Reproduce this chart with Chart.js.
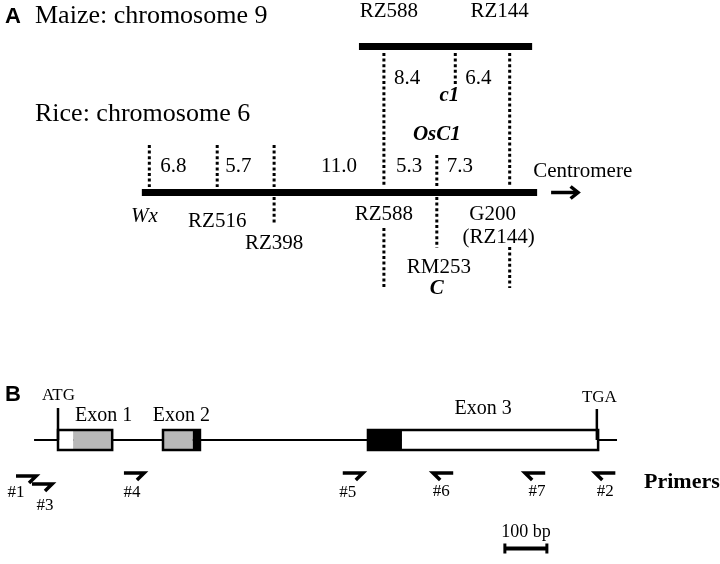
<!DOCTYPE html>
<html>
<head>
<meta charset="utf-8">
<script src="https://cdn.jsdelivr.net/npm/chart.js@4"></script>
<style>
  html, body { margin: 0; padding: 0; background: #fff; }
  #wrap { width: 720px; height: 564px; }
</style>
</head>
<body>
<div id="wrap"><canvas id="figura" width="720" height="564"></canvas></div>
<script>
// ---- Panel A: mapas genéticos (cM entre marcadores vecinos) ----
const maizeMarkers = ['RZ588', 'c1', 'RZ144'];
const maizeIntervals = [8.4, 6.4];
const riceMarkers = ['Wx', 'RZ516', 'RZ398', 'RZ588', 'RM253', 'G200'];
const riceIntervals = [6.8, 5.7, 11.0, 5.3, 7.3];

// ---- Panel B: gen OsC1, posiciones en pb (ATG = 0) ----
const geneSpan = [-57, 1331];
const atgPos = 0;
const tgaPos = 1283;
const exonNames = ['Exon 1', 'Exon 2', 'Exon 3'];
const exonStarts = [0, 250, 738];
const exonEnds = [129, 338, 1286];
const partStarts = [0, 36, 250, 321, 738, 819];
const partEnds = [36, 129, 321, 338, 819, 1286];
const partKinds = ['blanco', 'gris', 'gris', 'negro', 'negro', 'blanco'];
const primerNames = ['#1', '#3', '#4', '#5', '#6', '#7', '#2'];
const primerTips = [-52, -14, 205, 726, 893, 1112, 1279];
const primerStrand = [1, 1, 1, 1, -1, -1, -1];
const scaleBarStart = 1064;
const scaleBarLength = 100;

// posiciones acumuladas
const cumul = (arr, start) => arr.reduce((acc, d) => { acc.push(+(acc[acc.length - 1] + d).toFixed(2)); return acc; }, [start]);
const ricePos = cumul(riceIntervals, 0);
const maizeRaw = cumul(maizeIntervals, 0);
// maíz alineado con arroz en los marcadores comunes (RZ588 y RZ144/G200)
const k = (ricePos[5] - ricePos[3]) / maizeRaw[2];
const maizePos = maizeRaw.map(v => ricePos[3] + v * k);

// ---- estilos y maquetación ----
const SERIF = '"Liberation Serif", "Times New Roman", serif';
const SANS = '"Liberation Sans", Arial, sans-serif';
const DOT = [3, 2.6];
const colores = { blanco: '#ffffff', gris: '#b8b8b8', negro: '#000000' };

const datasets = [];
function seg(axis, pts, color, width, extra) {
  datasets.push(Object.assign({
    xAxisID: axis, yAxisID: 'y',
    data: pts.map(p => ({ x: p[0], y: p[1] })),
    showLine: true, pointRadius: 0, borderColor: color, backgroundColor: color,
    borderWidth: width, fill: false, tension: 0, borderCapStyle: 'butt',
    borderJoinStyle: 'miter', order: -datasets.length
  }, extra || {}));
}
const textos = [];
function texto(axis, x, dx, y, t, font, align) {
  textos.push({ axis, x, dx, y, t, font, align: align || 'center' });
}

// --- A: líneas punteadas ---
const maizeDots = [[53, 187], [53, 85], [53, 187]];
const riceDotsAbove = [[145, 187], [145, 187], [145, 187], null, [155, 187], null];
const riceDotsBelow = [null, null, [197, 225], [228, 288], [197, 248], [247, 288]];
maizePos.forEach((p, i) => seg('xa', [[p, maizeDots[i][0]], [p, maizeDots[i][1]]], '#000', 3, { borderDash: DOT }));
ricePos.forEach((p, i) => {
  [riceDotsAbove[i], riceDotsBelow[i]].forEach(r => {
    if (r) seg('xa', [[p, r[0]], [p, r[1]]], '#000', 3, { borderDash: DOT });
  });
});

// --- A: cromosomas ---
const maizeBar = [maizePos[0] - 2.5, maizePos[2] + 2.25];
const riceBar = [ricePos[0] - 0.75, ricePos[5] + 2.75];
seg('xa', [[maizeBar[0], 46.5], [maizeBar[1], 46.5]], '#000', 7);
seg('xa', [[riceBar[0], 192.5], [riceBar[1], 192.5]], '#000', 7);
// flecha hacia el centrómero
const aFrom = riceBar[1] + 1.4, aTo = riceBar[1] + 4.1;
seg('xa', [[aFrom, 192.5], [aTo - 0.2, 192.5]], '#000', 3.5);
seg('xa', [[aTo - 0.75, 186.5], [aTo, 192.5], [aTo - 0.75, 198.5]], '#000', 3.5);

// --- A: textos ---
texto(null, 0, 5, 23, 'A', 'bold 22px ' + SANS, 'left');
texto(null, 0, 35, 23, 'Maize: chromosome 9', '26px ' + SERIF, 'left');
texto(null, 0, 35, 121, 'Rice: chromosome 6', '26px ' + SERIF, 'left');
const maizeLbl = [{ dx: 5, y: 17, f: '21px ' }, { dx: -6, y: 101, f: 'bold italic 21px ' }, { dx: -10, y: 17, f: '21px ' }];
maizeMarkers.forEach((m, i) => texto('xa', maizePos[i], maizeLbl[i].dx, maizeLbl[i].y, m, maizeLbl[i].f + SERIF));
maizeIntervals.forEach((d, i) => texto('xa', maizePos[i], 10, 84, d.toFixed(1), '21px ' + SERIF, 'left'));

const riceLbl = [
  { dx: -5, y: 222, f: 'italic 21px ' }, { dx: 0, y: 227, f: '21px ' }, { dx: 0, y: 249, f: '21px ' },
  { dx: 0, y: 220, f: '21px ' }, { dx: 2, y: 273, f: '21px ' }, { dx: -17, y: 220, f: '21px ' }
];
riceMarkers.forEach((m, i) => texto('xa', ricePos[i], riceLbl[i].dx, riceLbl[i].y, m, riceLbl[i].f + SERIF));
texto('xa', ricePos[5], -11, 243, '(RZ144)', '21px ' + SERIF);
texto('xa', ricePos[4], 0, 140, 'OsC1', 'bold italic 21px ' + SERIF);
texto('xa', ricePos[4], 0, 294, 'C', 'bold italic 21px ' + SERIF);
const intLbl = [{ dx: 11, a: 'left' }, { dx: 8, a: 'left' }, { dx: 0, a: 'center' }, { dx: 12, a: 'left' }, { dx: 10, a: 'left' }];
riceIntervals.forEach((d, i) => {
  const x = intLbl[i].a === 'center' ? (ricePos[i] + ricePos[i + 1]) / 2 + 1 : ricePos[i];
  texto('xa', x, intLbl[i].dx, 172, d.toFixed(1), '21px ' + SERIF, intLbl[i].a);
});
texto('xa', riceBar[1], -4, 177, 'Centromere', '21px ' + SERIF, 'left');

// --- B: estructura del gen ---
seg('xb', [[geneSpan[0], 440], [geneSpan[1], 440]], '#000', 2);
partStarts.forEach((s, i) => seg('xb', [[s, 440], [partEnds[i], 440]], colores[partKinds[i]], 20));
exonStarts.forEach((s, i) => {
  const e = exonEnds[i], m = (s + e) / 2;
  seg('xb', [[m, 430], [e, 430], [e, 450], [s, 450], [s, 430], [m, 430]], '#000', 2.5);
});
seg('xb', [[atgPos, 408], [atgPos, 440]], '#000', 2.5);
seg('xb', [[tgaPos, 409], [tgaPos, 440]], '#000', 2.5);

// cebadores
const primerLen = 48, barb = 17;
const primerY = [476, 484, 473, 473, 473, 473, 473];
const primerLblDx = [-10, 3, -2, -5, -2, 2, 0];
const primerLblY = [497, 510, 497, 497, 496, 496, 496];
primerTips.forEach((t, i) => {
  const s = primerStrand[i], y = primerY[i];
  seg('xb', [[t - s * primerLen, y], [t, y], [t - s * barb, y + 7]], '#000', 3.5);
  texto('xb', t - s * primerLen / 2, primerLblDx[i], primerLblY[i], primerNames[i], '17px ' + SERIF);
});

// barra de escala
const sbEnd = scaleBarStart + scaleBarLength;
seg('xb', [[scaleBarStart, 548.5], [sbEnd, 548.5]], '#000', 4);
seg('xb', [[scaleBarStart, 543.5], [scaleBarStart, 553.5]], '#000', 3);
seg('xb', [[sbEnd, 543.5], [sbEnd, 553.5]], '#000', 3);

texto(null, 0, 5, 401, 'B', 'bold 22px ' + SANS, 'left');
texto('xb', atgPos, 0.5, 400, 'ATG', '17px ' + SERIF);
texto('xb', tgaPos, 2.5, 402, 'TGA', '17px ' + SERIF);
const exonLblDx = [18.5, 0, 0], exonLblY = [421, 421, 414];
exonNames.forEach((n, i) => texto('xb', (exonStarts[i] + exonEnds[i]) / 2, exonLblDx[i], exonLblY[i], n, '20px ' + SERIF));
texto('xb', geneSpan[1], 27, 488, 'Primers', 'bold 22px ' + SERIF, 'left');
texto('xb', scaleBarStart + scaleBarLength / 2, 0, 537, scaleBarLength + ' bp', '18px ' + SERIF);

const rotulos = {
  id: 'rotulos',
  afterDatasetsDraw(chart) {
    const ctx = chart.ctx, ys = chart.scales.y;
    ctx.save();
    ctx.fillStyle = '#000';
    ctx.textBaseline = 'alphabetic';
    textos.forEach(it => {
      const px = it.axis ? chart.scales[it.axis].getPixelForValue(it.x) + it.dx : it.dx;
      ctx.font = it.font;
      ctx.textAlign = it.align;
      ctx.fillText(it.t, px, ys.getPixelForValue(it.y));
    });
    ctx.restore();
  }
};

new Chart(document.getElementById('figura'), {
  type: 'scatter',
  data: { datasets },
  options: {
    responsive: false,
    animation: false,
    events: [],
    layout: { padding: 0 },
    plugins: { legend: { display: false }, tooltip: { enabled: false } },
    scales: {
      xa: { type: 'linear', axis: 'x', min: -14.96, max: 57.17, display: false },
      xb: { type: 'linear', axis: 'x', min: -138.1, max: 1576.2, display: false },
      y: { type: 'linear', min: 0, max: 564, reverse: true, display: false }
    }
  },
  plugins: [rotulos]
});
</script>
</body>
</html>
